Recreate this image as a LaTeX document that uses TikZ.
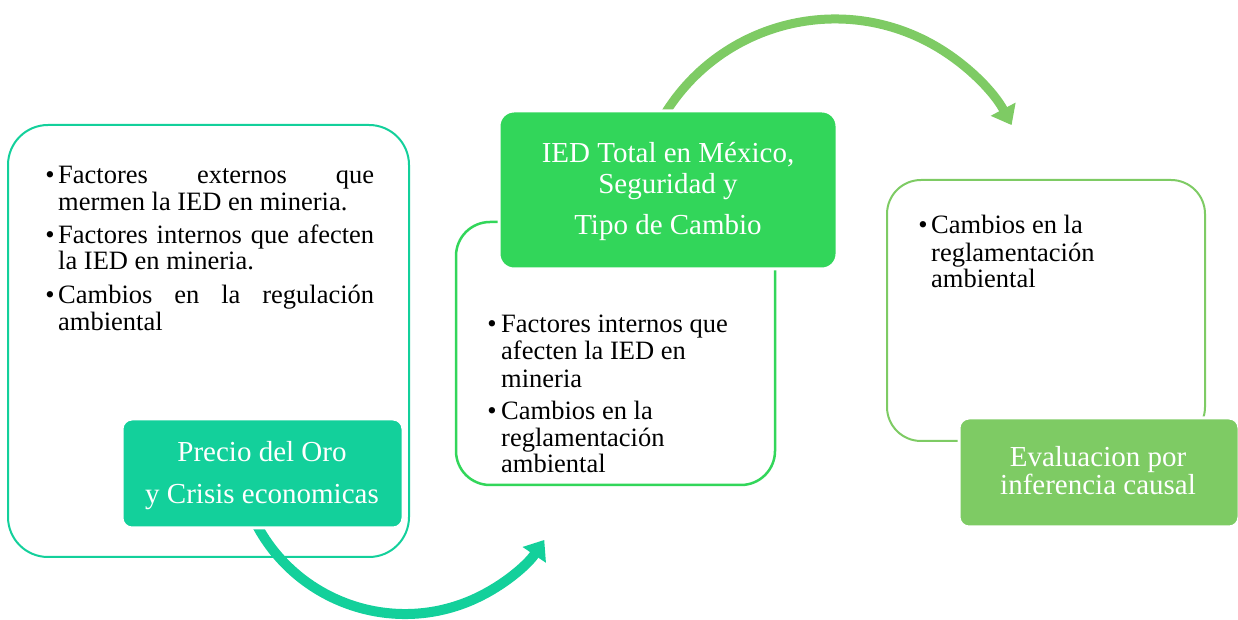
\documentclass[tikz,border=0pt]{standalone}
\usepackage{fontspec}
\setmainfont{Liberation Serif}
\usetikzlibrary{arrows.meta}
\definecolor{teal1}{RGB}{19,208,155}
\definecolor{green2}{RGB}{50,214,90}
\definecolor{green3}{RGB}{126,203,100}
\begin{document}
\begin{tikzpicture}[x=1pt,y=1pt,
  frame/.style={draw=#1, line width=2pt, rounded corners=34pt, inner sep=0pt, outer sep=0pt, anchor=south west},
  fillbox/.style={fill=#1, draw=white, line width=3pt, rounded corners=10pt, inner sep=0pt, outer sep=0pt, anchor=south west},
  btext/.style={anchor=base west, inner sep=0pt, font=\fontsize{26.5}{27}\selectfont},
  bdot/.style={anchor=base, inner sep=0pt, font=\fontsize{26.5}{27}\selectfont},
  wtext/.style={anchor=base, inner sep=0pt, text=white, font=\fontsize{29}{30}\selectfont},
  arrowline/.style={draw=#1, line width=10pt, -{Triangle[length=18pt,width=27pt]}}
]
\useasboundingbox (0,0) rectangle (1238,620);

% outlined boxes
\node[frame=teal1, rounded corners=40pt, minimum width=401pt, minimum height=432pt] (box1) at (8,63) {};
\node[frame=green2, line width=2.5pt, minimum width=319pt, minimum height=263pt] (box2) at (456,135) {};
\node[frame=green3, minimum width=318pt, minimum height=261pt] (box3) at (887,179) {};

% arrows
\coordinate (c1) at (405,174);
\coordinate (c2) at (835,401);
\path (c1) ++(205:168) coordinate (a1s);
\path (c2) ++(150:200) coordinate (a2s);
\draw[arrowline=teal1] (a1s) arc[start angle=205, end angle=326, radius=168];
\draw[arrowline=green3, line width=9pt] (a2s) arc[start angle=150, end angle=28, radius=200];

% filled boxes
\node[fillbox=teal1, minimum width=281pt, minimum height=109pt] (n1) at (122,92) {};
\node[fillbox=green2, rounded corners=15pt, minimum width=338pt, minimum height=158pt] (n2) at (499,351) {};
\node[fillbox=green3, minimum width=280pt, minimum height=109pt] (n3) at (959,93) {};

% filled box texts
\node[wtext] (n1a) at (262,158) {Precio del Oro};
\node[wtext] (n1b) at (262,116) {y Crisis economicas};
\node[wtext] (n2a) at (668,457) {IED Total en México,};
\node[wtext] (n2b) at (668,426) {Seguridad y};
\node[wtext] (n2c) at (668,385) {Tipo de Cambio};
\node[wtext] (n3a) at (1098,153) {Evaluacion por};
\node[wtext] (n3b) at (1098,125) {inferencia causal};

% box 1 bullets
\node[bdot] (d11) at (50,436) {•};
\node[btext] (t11) at (58,436) {\makebox[316pt][s]{Factores externos que}};
\node[btext] (t12) at (58,409) {mermen la IED en mineria.};
\node[bdot] (d12) at (50,376) {•};
\node[btext] (t13) at (58,376) {\makebox[316pt][s]{Factores internos que afecten}};
\node[btext] (t14) at (58,350) {la IED en mineria.};
\node[bdot] (d13) at (50,316) {•};
\node[btext] (t15) at (58,316) {\makebox[316pt][s]{Cambios en la regulación}};
\node[btext] (t16) at (58,289) {ambiental};

% box 2 bullets
\node[bdot] (d21) at (492,287) {•};
\node[btext] (t21) at (501,287) {Factores internos que};
\node[btext] (t22) at (501,260) {afecten la IED en};
\node[btext] (t23) at (501,232) {mineria};
\node[bdot] (d22) at (492,200) {•};
\node[btext] (t24) at (501,200) {Cambios en la};
\node[btext] (t25) at (501,173) {reglamentación};
\node[btext] (t26) at (501,147) {ambiental};

% box 3 bullets
\node[bdot] (d31) at (923,386) {•};
\node[btext] (t31) at (931,386) {Cambios en la};
\node[btext] (t32) at (931,358) {reglamentación};
\node[btext] (t33) at (931,332) {ambiental};
\end{tikzpicture}
\end{document}
